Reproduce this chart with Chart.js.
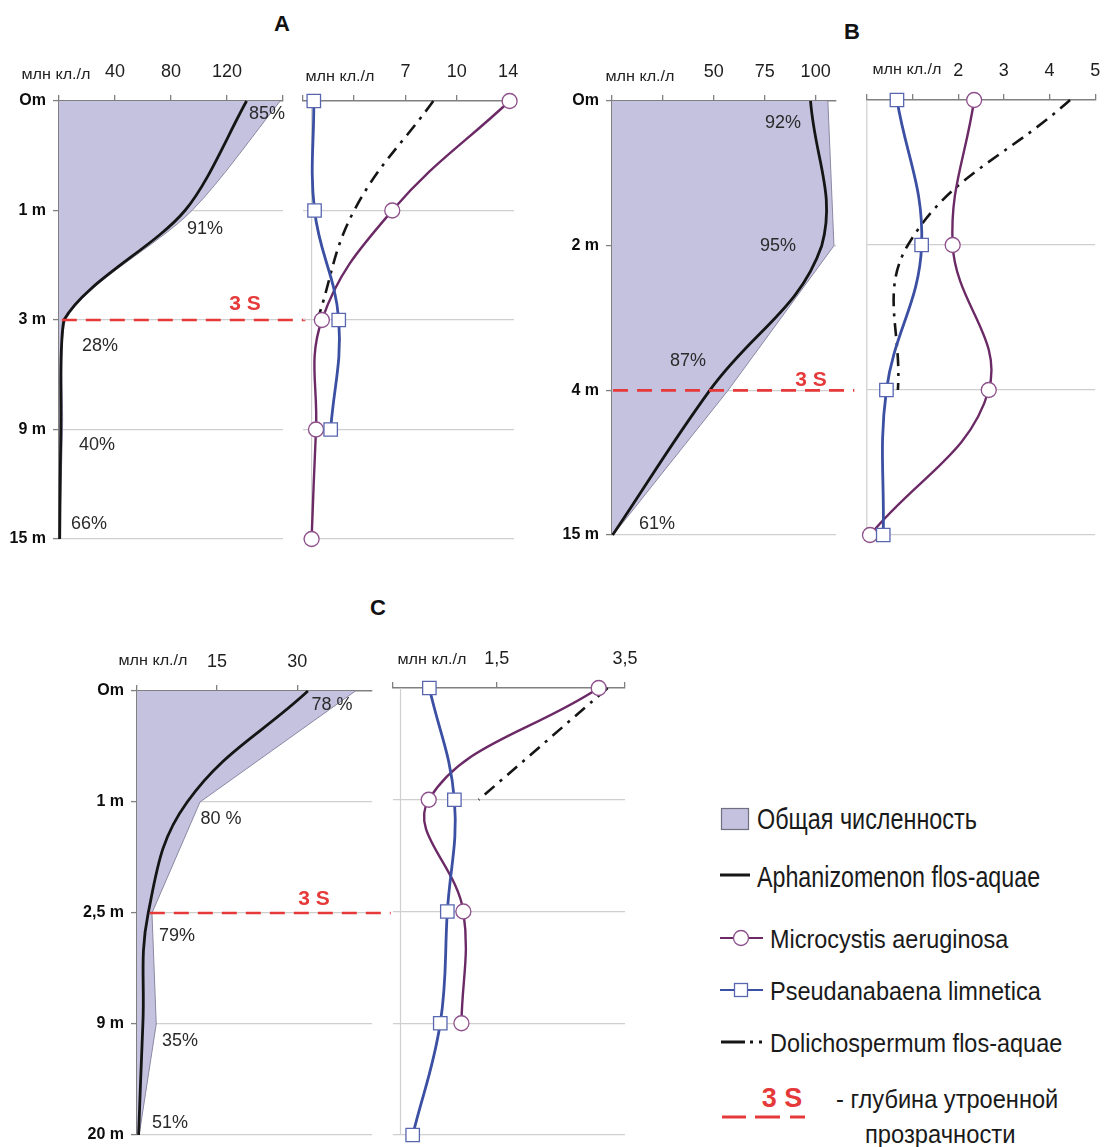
<!DOCTYPE html>
<html><head><meta charset="utf-8">
<script src="https://cdn.jsdelivr.net/npm/chart.js@4.4.1/dist/chart.umd.min.js"></script>
<style>
html,body{margin:0;padding:0;background:#fff;}
body{width:1106px;height:1147px;position:relative;overflow:hidden;font-family:"Liberation Sans",Arial,sans-serif;color:#1e1e1e;}
.t{position:absolute;white-space:nowrap;line-height:1;display:inline-block;}
</style></head><body>
<svg id="leg" style="position:absolute;left:0;top:0" width="1106" height="1147"></svg>
<script>
// ---------------- DATA ----------------
// Panel A
const depthsA = ['Om', '1 m', '3 m', '9 m', '15 m'];
const totalA = [158, 95, 4.5, 2.5, 0.5];
const aphanA = [134, 90, 3.5, 1.3, 0.5];
const pctA = ['85%', '91%', '28%', '40%', '66%'];
const microA = [14.1, 6.1, 1.3, 0.9, 0.6];
const pseudoA = [0.75, 0.8, 2.45, 1.9, null];
const dolichoA = [8.9, 3.5, 1.0, null, null];
const ticksAL = [0, 40, 80, 120, 160];
const tickLabelsAL = ['', '40', '80', '120', ''];
const ticksAR = [0, 3.5, 7, 10.5, 14];
const tickLabelsAR = ['', '', '7', '10', '14'];
const threeSA = 2; // index of depth "3 m"

// Panel B
const depthsB = ['Om', '2 m', '4 m', '15 m'];
const totalB = [106, 109, 57, 0.5];
const aphanB = [97.5, 103, 48, 0.3];
const pctB = ['92%', '95%', '87%', '61%'];
const microB = [2.35, 1.88, 2.67, 0.07];
const pseudoB = [0.66, 1.2, 0.43, 0.36];
const dolichoB = [4.45, 0.9, 0.68, null];
const ticksBL = [0, 25, 50, 75, 100];
const tickLabelsBL = ['', '', '50', '75', '100'];
const ticksBR = [0, 1, 2, 3, 4, 5];
const tickLabelsBR = ['', '', '2', '3', '4', '5'];
const threeSB = 2; // index of depth "4 m"

// Panel C
const depthsC = ['Om', '1 m', '2,5 m', '9 m', '20 m'];
const totalC = [40.9, 11.8, 2.8, 3.6, 0.4];
const aphanC = [32, 9.4, 2.1, 1.1, 0.3];
const pctC = ['78 %', '80 %', '79%', '35%', '51%'];
const microC = [3.09, 0.44, 0.98, 0.95, null];
const pseudoC = [0.45, 0.84, 0.73, 0.62, 0.19];
const dolichoC = [3.23, 1.22, null, null, null];
const ticksCL = [0, 15, 30];
const tickLabelsCL = ['', '15', '30'];
const ticksCR = [-0.12, 1.5, 3.5];
const tickLabelsCR = ['', '1,5', '3,5'];
const threeSC = 2; // index of depth "2,5 m"

const unitLabel = 'млн кл./л';
const legendItems = ['Общая численность', 'Aphanizomenon flos-aquae', 'Microcystis aeruginosa',
  'Pseudanabaena limnetica', 'Dolichospermum flos-aquae'];
const legend3S = ['3 S', '- глубина утроенной', 'прозрачности'];

// ---------------- STYLE ----------------
Chart.defaults.font.family = '"Liberation Sans", Arial, sans-serif';
const AXIS = '#808080', GRID = '#cfcfcf';
const FILL = '#c4c2df', EDGE = '#8a88a2';
const APHAN = '#151515', MICRO = '#6b2a66', MICRO_PT = '#8e4f8c';
const PSEUDO = '#3b4fa3', PSEUDO_PT = '#5866b0', DOLI = '#151515', RED = '#e5393a';

function pts(arr) { return arr.map((v, i) => v == null ? null : {x: v, y: i}).filter(p => p); }

function makePanel(o) {
  const W = Math.round(o.area.r - o.area.l + o.yW + o.padR);
  const H = Math.round(o.area.b - o.area.t + o.xH + o.padB);
  const cv = document.createElement('canvas');
  cv.width = W; cv.height = H;
  cv.style.cssText = `position:absolute;left:${o.area.l - o.yW}px;top:${o.area.t - o.xH}px;width:${W}px;height:${H}px;`;
  document.body.appendChild(cv);
  const n = o.yLabels.length;
  new Chart(cv, {
    type: 'line',
    data: {datasets: o.datasets},
    options: {
      responsive: false, animation: false, devicePixelRatio: 1, indexAxis: 'y',
      layout: {padding: {left: 0, top: 0, right: o.padR, bottom: o.padB}},
      plugins: {legend: {display: false}, tooltip: {enabled: false}},
      elements: {line: {capBezierPoints: false, borderCapStyle: 'butt'}},
      scales: {
        x: {type: 'linear', position: 'top', min: o.xMin, max: o.xMax,
          afterBuildTicks: s => { s.ticks = o.xTicks.map(v => ({value: v})); },
          afterFit: s => { s.height = o.xH; s.paddingLeft = 0; s.paddingRight = 0; },
          ticks: {callback: (v, i) => o.xLabels[i], font: {size: 18}, color: '#1e1e1e', padding: 12, maxRotation: 0, autoSkip: false},
          grid: {drawOnChartArea: false, drawTicks: true, tickLength: 6, color: AXIS, lineWidth: 1.3},
          border: {display: true, color: AXIS, width: 1.6}},
        y: {type: 'linear', reverse: true, min: 0, max: n - 1,
          afterBuildTicks: s => { s.ticks = o.yLabels.map((_, i) => ({value: i})); },
          afterFit: s => { s.width = o.yW; s.paddingTop = 0; s.paddingBottom = 0; },
          ticks: {display: o.yShow, callback: (v, i) => o.yLabels[i], font: {size: 16, weight: 'bold'}, color: '#0d0d0d', padding: 7, autoSkip: false},
          grid: {color: c => c.index === 0 ? 'rgba(0,0,0,0)' : GRID, lineWidth: 1.2, drawTicks: o.yShow, tickLength: 6, tickColor: AXIS, tickWidth: 1.3},
          border: {display: o.yShow, color: AXIS, width: 1.6}}
      }
    },
    plugins: [{id: 'vline', beforeDatasetsDraw(ch) {
      if (o.vline == null) return;
      const x = ch.scales.x.getPixelForValue(o.vline), a = ch.chartArea, c = ch.ctx;
      c.save(); c.strokeStyle = GRID; c.lineWidth = 1.2;
      c.beginPath(); c.moveTo(x, a.top); c.lineTo(x, a.bottom); c.stroke(); c.restore();
    }}]
  });
}

function leftSets(total, aphan, s3, s3from, s3to, tTot, tAph) {
  return [
    {data: [{x: s3from, y: s3}, {x: s3to, y: s3}], borderColor: RED, borderWidth: 2.6, borderDash: [15, 9], pointRadius: 0, clip: false, order: 0, tension: 0},
    {data: pts(aphan), borderColor: APHAN, borderWidth: 2.8, pointRadius: 0, tension: tAph, capBezierPoints: true, clip: false, order: 1, fill: false},
    {data: pts(total), borderColor: EDGE, borderWidth: 1, backgroundColor: FILL, fill: 'origin', pointRadius: 0, tension: tTot, capBezierPoints: true, order: 2, clip: false}
  ];
}
function rightSets(micro, pseudo, doli) {
  return [
    {data: pts(pseudo), borderColor: PSEUDO, borderWidth: 2.8, tension: 0.4, pointStyle: 'rect', pointRadius: 9.5,
      pointBackgroundColor: '#fff', pointBorderColor: PSEUDO_PT, pointBorderWidth: 1.3, order: 0, clip: false},
    {data: pts(micro), borderColor: MICRO, borderWidth: 2.4, tension: 0.4, pointStyle: 'circle', pointRadius: 7.5,
      pointBackgroundColor: '#fff', pointBorderColor: MICRO_PT, pointBorderWidth: 1.3, order: 1, clip: false},
    {data: pts(doli), borderColor: DOLI, borderWidth: 2.6, borderDash: [13, 7, 3, 7], tension: 0.4, pointRadius: 0, order: 2, clip: false}
  ];
}

// Panel A
makePanel({area: {l: 59, t: 101, r: 283, b: 539}, yW: 60, xH: 45, padR: 28, padB: 16,
  xMin: 0, xMax: 160, xTicks: ticksAL, xLabels: tickLabelsAL, yLabels: depthsA, yShow: true,
  datasets: leftSets(totalA, aphanA, threeSA, 2, 176, 0.3, 0.3)});
makePanel({area: {l: 302, t: 101, r: 514, b: 539}, yW: 10, xH: 45, padR: 20, padB: 16,
  xMin: 0, xMax: 14.4, xTicks: ticksAR, xLabels: tickLabelsAR, yLabels: depthsA, yShow: false, vline: 0.6,
  datasets: rightSets(microA, pseudoA, dolichoA)});
// Panel B
makePanel({area: {l: 612, t: 101, r: 836.4, b: 535}, yW: 60, xH: 45, padR: 28, padB: 16,
  xMin: 0, xMax: 110, xTicks: ticksBL, xLabels: tickLabelsBL, yLabels: depthsB, yShow: true,
  datasets: leftSets(totalB, aphanB, threeSB, 0.5, 119, 0, 0.4)});
makePanel({area: {l: 866, t: 100, r: 1099.5, b: 535}, yW: 10, xH: 45, padR: 6, padB: 16,
  xMin: 0, xMax: 5, xTicks: ticksBR, xLabels: tickLabelsBR, yLabels: depthsB, yShow: false, vline: 0,
  datasets: rightSets(microB, pseudoB, dolichoB)});
// Panel C
makePanel({area: {l: 137, t: 691, r: 371.5, b: 1135}, yW: 60, xH: 45, padR: 28, padB: 12,
  xMin: 0, xMax: 44, xTicks: ticksCL, xLabels: tickLabelsCL, yLabels: depthsC, yShow: true,
  datasets: leftSets(totalC, aphanC, threeSC, 2.4, 47.5, 0, 0.4)});
makePanel({area: {l: 392, t: 688, r: 625, b: 1135}, yW: 10, xH: 45, padR: 20, padB: 12,
  xMin: -0.12, xMax: 3.5, xTicks: ticksCR, xLabels: tickLabelsCR, yLabels: depthsC, yShow: false, vline: 0,
  datasets: rightSets(microC, pseudoC, dolichoC)});

// ---------------- TEXT ----------------
function label(text, x, y, o) {
  o = o || {};
  const el = document.createElement('div');
  el.className = 't';
  el.textContent = text;
  el.style.left = x + 'px'; el.style.top = y + 'px';
  el.style.fontSize = (o.size || 18) + 'px';
  el.style.fontWeight = o.weight || 'normal';
  el.style.color = o.color || '#222';
  document.body.appendChild(el);
  let s = 1;
  if (o.fitW) s = o.fitW / el.offsetWidth;
  if (o.align === 'left') {
    el.style.transformOrigin = 'left center';
    el.style.transform = `translateY(-50%) scaleX(${s})`;
  } else {
    el.style.transformOrigin = 'center center';
    el.style.transform = `translate(-50%,-50%) scaleX(${s})`;
  }
  return el;
}
// titles
label('A', 282, 24, {size: 22, weight: 'bold', color: '#111'});
label('B', 852, 32, {size: 22, weight: 'bold', color: '#111'});
label('C', 378, 608, {size: 22, weight: 'bold', color: '#111'});
// unit labels
[[56, 73], [340, 75], [640, 75], [907, 68], [153, 659], [432, 658]].forEach(p =>
  label(unitLabel, p[0], p[1], {size: 15, fitW: 69, color: '#222'}));
// percentages
const pctPosA = [[267, 113], [205, 228], [100, 345], [97, 444], [89, 523]];
const pctPosB = [[783, 122], [778, 245], [688, 360], [657, 523]];
const pctPosC = [[332, 704], [221, 818], [177, 935], [180, 1040], [170, 1122]];
pctA.forEach((t, i) => label(t, pctPosA[i][0], pctPosA[i][1], {size: 18, color: '#2a2a2a'}));
pctB.forEach((t, i) => label(t, pctPosB[i][0], pctPosB[i][1], {size: 18, color: '#2a2a2a'}));
pctC.forEach((t, i) => label(t, pctPosC[i][0], pctPosC[i][1], {size: 18, color: '#2a2a2a'}));
// 3 S labels
[[245, 302], [811, 378], [314, 897]].forEach(p => label('3 S', p[0], p[1], {size: 21, weight: 'bold', color: RED}));

// legend texts
label(legendItems[0], 757, 819, {size: 29, align: 'left', fitW: 220, color: '#1a1a1a'});
label(legendItems[1], 757, 877, {size: 29, align: 'left', fitW: 283, color: '#1a1a1a'});
label(legendItems[2], 770, 939, {size: 25, align: 'left', fitW: 238, color: '#1a1a1a'});
label(legendItems[3], 770, 991, {size: 25, align: 'left', fitW: 271, color: '#1a1a1a'});
label(legendItems[4], 770, 1043, {size: 25, align: 'left', fitW: 292, color: '#1a1a1a'});
label(legend3S[0], 782, 1098, {size: 27, weight: 'bold', color: RED});
label(legend3S[1], 836, 1099, {size: 25, align: 'left', fitW: 222, color: '#1a1a1a'});
label(legend3S[2], 865, 1134, {size: 25, align: 'left', fitW: 150, color: '#1a1a1a'});

// legend symbols
const svg = document.getElementById('leg');
svg.innerHTML = `
 <rect x="721.5" y="808.5" width="27" height="21" fill="${FILL}" stroke="#6f6f80" stroke-width="1.2"/>
 <line x1="720" y1="875" x2="750" y2="875" stroke="${APHAN}" stroke-width="3"/>
 <line x1="720" y1="938" x2="763" y2="938" stroke="${MICRO}" stroke-width="2"/>
 <circle cx="741" cy="938" r="7.5" fill="#fff" stroke="${MICRO_PT}" stroke-width="1.3"/>
 <line x1="720" y1="990" x2="763" y2="990" stroke="${PSEUDO}" stroke-width="2"/>
 <rect x="734.5" y="983.5" width="13" height="13" fill="#fff" stroke="${PSEUDO_PT}" stroke-width="1.3"/>
 <line x1="721" y1="1042" x2="745" y2="1042" stroke="${DOLI}" stroke-width="3"/>
 <line x1="750" y1="1042" x2="753" y2="1042" stroke="${DOLI}" stroke-width="3"/>
 <line x1="759" y1="1042" x2="762" y2="1042" stroke="${DOLI}" stroke-width="3"/>
 <line x1="722" y1="1117" x2="746" y2="1117" stroke="${RED}" stroke-width="3"/>
 <line x1="755" y1="1117" x2="780" y2="1117" stroke="${RED}" stroke-width="3"/>
 <line x1="790" y1="1117" x2="805" y2="1117" stroke="${RED}" stroke-width="3"/>`;
</script>
</body></html>
